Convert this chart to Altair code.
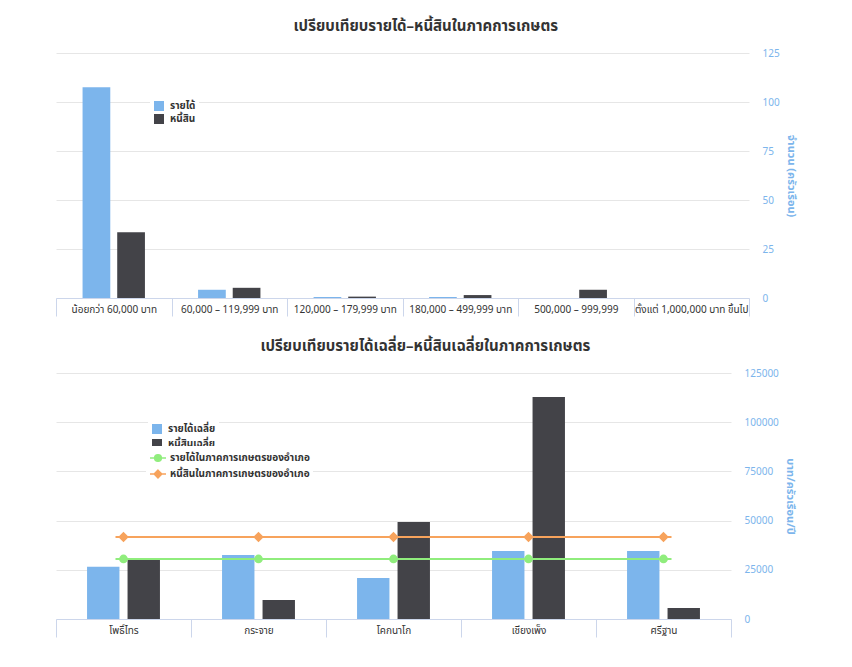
import altair as alt
import pandas as pd

FONT = "Noto Sans Thai, Loma, Garuda, Tahoma, DejaVu Sans, sans-serif"

# ---- top chart data ----
top_categories = ["น้อยกว่า 60,000 บาท", "60,000 – 119,999 บาท", "120,000 – 179,999 บาท",
                  "180,000 – 499,999 บาท", "500,000 – 999,999", "ตั้งแต่ 1,000,000 บาท ขึ้นไป"]
top_series = ["รายได้", "หนี้สิน"]
top_income = [107.5, 4.2, 0.5, 0.5, 0, 0]
top_debt = [33.5, 5.2, 0.7, 1.5, 4.2, 0]

# ---- bottom chart data ----
bottom_categories = ["โพธิ์ไทร", "กระจาย", "โคกนาโก", "เชียงเพ็ง", "ศรีฐาน"]
bar_series = ["รายได้เฉลี่ย", "หนี้สินเฉลี่ย"]
avg_income = [26500, 32500, 20800, 34600, 34600]
avg_debt = [30000, 9700, 49300, 112800, 5600]
line_series = ["รายได้ในภาคการเกษตรของอำเภอ", "หนี้สินในภาคการเกษตรของอำเภอ"]
district_income = [30500, 30500, 30500, 30500, 30500]
district_debt = [41700, 41700, 41700, 41700, 41700]

bar_colors = ["#7cb5ec", "#434348"]
line_colors = ["#90ed7d", "#f7a35c"]

top_df = pd.DataFrame({
    "category": top_categories * 2,
    "series": [top_series[0]] * len(top_categories) + [top_series[1]] * len(top_categories),
    "value": top_income + top_debt,
})
bar_df = pd.DataFrame({
    "category": bottom_categories * 2,
    "series": [bar_series[0]] * len(bottom_categories) + [bar_series[1]] * len(bottom_categories),
    "value": avg_income + avg_debt,
})
line_df = pd.DataFrame({
    "category": bottom_categories * 2,
    "series": [line_series[0]] * len(bottom_categories) + [line_series[1]] * len(bottom_categories),
    "value": district_income + district_debt,
})

AXIS_BLUE = "#7cb5ec"


def x_enc(cats):
    return alt.X("category:N", sort=cats,
                 scale=alt.Scale(paddingInner=0, paddingOuter=0),
                 axis=alt.Axis(title=None, labelAngle=0, tickBand="extent", tickSize=18,
                               labelPadding=-12, domainColor="#ccd6eb", tickColor="#ccd6eb",
                               labelColor="#333333", labelFontSize=10, grid=False,
                               labelFont=FONT))


def xoff_enc(series):
    return alt.XOffset("series:N", sort=series,
                       scale=alt.Scale(domain=series, paddingInner=0.2, paddingOuter=0.7667))


def y_enc(domain, values, title, fmt):
    return alt.Y("value:Q", scale=alt.Scale(domain=domain, nice=False),
                 axis=alt.Axis(orient="right", values=values, format=fmt, title=title,
                               titleAngle=90, titleColor=AXIS_BLUE, titleFontSize=11,
                               titleFontWeight="bold", titlePadding=6, titleFont=FONT,
                               labelColor=AXIS_BLUE, labelFontSize=10, labelPadding=13,
                               labelFont=FONT, labelAlign="left",
                               domain=False, ticks=False, grid=True, gridColor="#e6e6e6"))


def legend(x, y, rowpad, size, stype=None, loff=5):
    kw = dict(title=None, orient="none", legendX=x, legendY=y, symbolSize=size,
              labelFontSize=10, labelFontWeight="bold", labelColor="#333333", labelFont=FONT,
              padding=3, rowPadding=rowpad, fillColor="white", labelOffset=loff)
    if stype:
        kw["symbolType"] = stype
    return alt.Legend(**kw)


def title(text):
    return alt.TitleParams(text=text, fontSize=15, fontWeight="bold", color="#333333",
                           anchor="middle", frame="bounds", offset=14, font=FONT)


top = alt.Chart(top_df, title=title("เปรียบเทียบรายได้–หนี้สินในภาคการเกษตร")).mark_bar().encode(
    x=x_enc(top_categories),
    xOffset=xoff_enc(top_series),
    y=y_enc([0, 125], [0, 25, 50, 75, 100, 125], "จำนวน (ครัวเรือน)", "d"),
    color=alt.Color("series:N", scale=alt.Scale(domain=top_series, range=bar_colors),
                    legend=legend(94, 44, 2, 100, "square")),
).properties(width=693, height=245)

circle_path = "M-1,0L1,0M-0.42,0A0.42,0.42,0,1,1,0.42,0A0.42,0.42,0,1,1,-0.42,0Z"
diamond_path = "M-1,0L1,0M0,-0.48L0.48,0L0,0.48L-0.48,0Z"

y_bot = y_enc([0, 125000], [0, 25000, 50000, 75000, 100000, 125000], "บาท/ครัวเรือน/ปี", "d")

bars = alt.Chart(bar_df).mark_bar().encode(
    x=x_enc(bottom_categories),
    xOffset=xoff_enc(bar_series),
    y=y_bot,
    color=alt.Color("series:N", scale=alt.Scale(domain=bar_series, range=bar_colors),
                    legend=legend(92, 47, 4, 100, "square")),
)
line_leg = legend(90, 73, -4.5, 256, loff=3)
lines = alt.Chart(line_df).mark_line(strokeWidth=2).encode(
    x=x_enc(bottom_categories),
    y=y_bot,
    stroke=alt.Stroke("series:N", scale=alt.Scale(domain=line_series, range=line_colors),
                      legend=line_leg),
)
points = alt.Chart(line_df).mark_point(filled=True, size=256, strokeWidth=2, opacity=1).encode(
    x=x_enc(bottom_categories),
    y=y_bot,
    fill=alt.Fill("series:N", scale=alt.Scale(domain=line_series, range=line_colors),
                  legend=line_leg),
    stroke=alt.Stroke("series:N", scale=alt.Scale(domain=line_series, range=line_colors),
                      legend=line_leg),
    shape=alt.Shape("series:N", scale=alt.Scale(domain=line_series, range=[circle_path, diamond_path]),
                    legend=line_leg),
)

bottom = alt.layer(bars, lines, points, title=title("เปรียบเทียบรายได้เฉลี่ย–หนี้สินเฉลี่ยในภาคการเกษตร")).properties(
    width=675, height=246)

chart = alt.vconcat(top, bottom, spacing=22).resolve_scale(
    xOffset="independent", color="independent", fill="independent",
    stroke="independent", shape="independent"
).resolve_legend(
    color="independent", fill="independent", stroke="independent", shape="independent"
).properties(
    padding={"left": 47, "top": 11, "right": 5, "bottom": 5}
).configure(font=FONT, view=alt.ViewConfig(stroke=None))

chart.save("out.html", embed_options={"renderer": "svg", "actions": False})
